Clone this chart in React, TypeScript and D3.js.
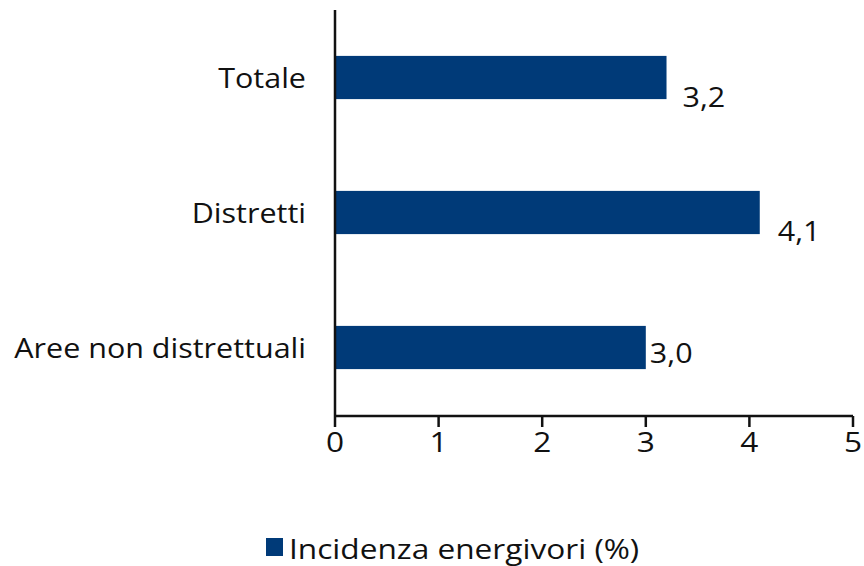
import React from 'react';
import * as d3 from 'd3';

const categories = ['Totale', 'Distretti', 'Aree non distrettuali'];
const values = [3.2, 4.1, 3.0];
const xTicks = [0, 1, 2, 3, 4, 5];
const seriesName = 'Incidenza energivori (%)';

const W = 864;
const H = 566;
const FONT = "'Open Sans', 'DejaVu Sans', sans-serif";
const BLUE = '#003a78';
const STRETCH = 1.13; // source font is wider than Open Sans

// label nudges, the source puts them by hand
const labelDx = [16, 18, 4];
const labelDy = [19, 18, 5];

const Txt = ({ x, y, anchor = 'start', size = 27, children }: any) => (
  <text transform={`translate(${x},${y}) scale(${STRETCH},1)`} textAnchor={anchor}
    dominantBaseline="central" fontFamily={FONT} fontSize={size} fill="#111">{children}</text>
);

const App = () => {
  const x = d3.scaleLinear().domain([0, 5]).range([335, 853]);
  const y = d3.scaleBand().domain(categories).range([10, 415]).paddingInner(0.68).paddingOuter(0.34);
  const fmt = (v: number) => d3.format('.1f')(v).replace('.', ',');
  const mid = (c: string) => (y(c) as number) + y.bandwidth() / 2;

  return (
    <svg width={W} height={H} style={{ position: 'absolute', left: 0, top: 0, background: '#fff' }}>
      {categories.map((c, i) => (
        <rect key={c} x={x(0)} y={y(c)} width={x(values[i]) - x(0)} height={y.bandwidth()} fill={BLUE} />
      ))}
      {categories.map((c, i) => (
        <Txt key={'l' + c} x={x(values[i]) + labelDx[i]} y={mid(c) + labelDy[i]}>{fmt(values[i])}</Txt>
      ))}
      {categories.map(c => (
        <Txt key={'c' + c} x={306} y={mid(c)} anchor="end">{c}</Txt>
      ))}
      <line x1={x(0)} x2={x(0)} y1={10} y2={416} stroke="#111" strokeWidth={2.5} />
      <line x1={x(0)} x2={x(5)} y1={416} y2={416} stroke="#111" strokeWidth={2.5} />
      {xTicks.map(t => (
        <g key={t}>
          <line x1={x(t)} x2={x(t)} y1={416} y2={427} stroke="#111" strokeWidth={2.5} />
          <Txt x={x(t)} y={441} anchor="middle" size={28}>{t}</Txt>
        </g>
      ))}
      <rect x={266} y={538} width={17} height={18} fill={BLUE} />
      <Txt x={289} y={548} size={28}>{seriesName}</Txt>
    </svg>
  );
};

export default App;
